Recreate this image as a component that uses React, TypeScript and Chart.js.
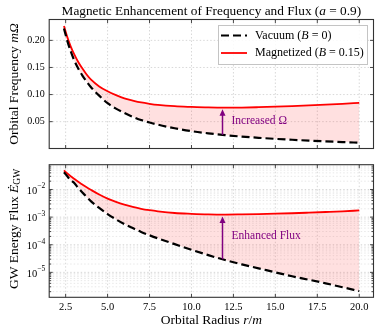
import React, { useEffect, useRef } from 'react';
import { Chart, registerables } from 'chart.js';
Chart.register(...registerables);

// ---------- data ----------
const radius = [2.4, 2.6, 2.8, 3.0, 3.25, 3.5, 3.75, 4.0, 4.5, 5.0, 5.5, 6.0, 6.5, 7.0, 7.5, 8.0, 9.0, 10, 11, 12, 13, 14, 15, 16, 17, 18, 19, 20];
const omegaVacuum = [0.222, 0.199, 0.18, 0.164, 0.148, 0.135, 0.124, 0.114, 0.098, 0.084, 0.074, 0.066, 0.059, 0.053, 0.0485, 0.0445, 0.0378, 0.0325, 0.0285, 0.0252, 0.0225, 0.0202, 0.0183, 0.0166, 0.0151, 0.0137, 0.0124, 0.0112];
const omegaMagnetized = [0.2265, 0.206, 0.189, 0.175, 0.16, 0.148, 0.137, 0.128, 0.115, 0.106, 0.099, 0.093, 0.089, 0.0855, 0.083, 0.081, 0.0785, 0.0772, 0.0762, 0.0758, 0.076, 0.0767, 0.0776, 0.0787, 0.08, 0.0815, 0.083, 0.0846];
const fluxVacuum = [4.2e-2, 3.0e-2, 2.2e-2, 1.74e-2, 1.15e-2, 7.8e-3, 5.4e-3, 3.8e-3, 2.14e-3, 1.29e-3, 8.3e-4, 5.6e-4, 4.0e-4, 2.9e-4, 2.2e-4, 1.7e-4, 1.05e-4, 6.6e-5, 4.2e-5, 2.8e-5, 1.95e-5, 1.4e-5, 1.0e-5, 7.2e-6, 5.4e-6, 4.0e-6, 2.9e-6, 2.1e-6];
const fluxMagnetized = [4.9e-2, 3.8e-2, 3.02e-2, 2.45e-2, 1.9e-2, 1.51e-2, 1.2e-2, 9.77e-3, 6.6e-3, 4.68e-3, 3.55e-3, 2.82e-3, 2.34e-3, 2.0e-3, 1.78e-3, 1.62e-3, 1.41e-3, 1.32e-3, 1.26e-3, 1.24e-3, 1.26e-3, 1.29e-3, 1.33e-3, 1.38e-3, 1.45e-3, 1.53e-3, 1.62e-3, 1.74e-3];

const radiusTicks = [2.5, 5.0, 7.5, 10.0, 12.5, 15.0, 17.5, 20.0];
const omegaTicks = [0.05, 0.1, 0.15, 0.2];
const fluxDecades = [-5, -4, -3, -2];

const vacuumLabel = ['Vacuum (', 'B', ' = 0)'];
const magnetizedLabel = ['Magnetized (', 'B', ' = 0.15)'];
const arrowRadius = 11.85;
const omegaNote = 'Increased Ω';
const fluxNote = 'Enhanced Flux';

// ---------- style ----------
const SERIF = "'Liberation Serif', 'Times New Roman', Times, serif";
const PURPLE = '#800080';
const RED = '#ff0000';
const FILL = 'rgba(255,0,0,0.12)';
const GRID = 'rgba(0,0,0,0.2)';
const GRID_MINOR = 'rgba(0,0,0,0.12)';
const FRAME = '#333333';
const DASH = [8, 4];
const TICK_SIZE = 10;

const f = (size: number, italic = false) => `${italic ? 'italic ' : ''}${size}px ${SERIF}`;

type Part = { t: string; size: number; it?: boolean; dy?: number };

function drawRich(ctx: CanvasRenderingContext2D, parts: Part[], x: number, y: number, align: 'left' | 'center' | 'right' = 'center') {
  ctx.save();
  ctx.textBaseline = 'middle';
  ctx.textAlign = 'left';
  let total = 0;
  const widths = parts.map((p) => {
    ctx.font = f(p.size, p.it);
    const w = ctx.measureText(p.t).width;
    total += w;
    return w;
  });
  let cx = align === 'center' ? x - total / 2 : align === 'right' ? x - total : x;
  parts.forEach((p, i) => {
    ctx.font = f(p.size, p.it);
    ctx.fillText(p.t, cx, y + (p.dy || 0));
    cx += widths[i];
  });
  ctx.restore();
}

function interp(xs: number[], ys: number[], x: number, log = false) {
  for (let i = 0; i < xs.length - 1; i++) {
    if (x >= xs[i] && x <= xs[i + 1]) {
      const t = (x - xs[i]) / (xs[i + 1] - xs[i]);
      if (log) return Math.pow(10, Math.log10(ys[i]) + t * (Math.log10(ys[i + 1]) - Math.log10(ys[i])));
      return ys[i] + t * (ys[i + 1] - ys[i]);
    }
  }
  return ys[ys.length - 1];
}

function line(ctx: CanvasRenderingContext2D, x0: number, y0: number, x1: number, y1: number) {
  ctx.beginPath();
  ctx.moveTo(x0, y0);
  ctx.lineTo(x1, y1);
  ctx.stroke();
}

function drawArrow(ctx: CanvasRenderingContext2D, x: number, yFrom: number, yTo: number) {
  ctx.save();
  ctx.strokeStyle = PURPLE;
  ctx.fillStyle = PURPLE;
  ctx.lineWidth = 1.5;
  line(ctx, x, yFrom, x, yTo + 5);
  ctx.beginPath();
  ctx.moveTo(x, yTo);
  ctx.lineTo(x - 3, yTo + 6.5);
  ctx.lineTo(x + 3, yTo + 6.5);
  ctx.closePath();
  ctx.fill();
  ctx.restore();
}

function makeDecor(kind: 'top' | 'bottom') {
  return {
    id: 'decor-' + kind,
    beforeDatasetsDraw(chart: any) {
      const { ctx, chartArea: a, scales } = chart;
      const xs = scales.x, ys = scales.y;
      ctx.save();
      ctx.strokeStyle = GRID;
      ctx.lineWidth = 0.8;
      ctx.setLineDash([1.5, 2]);
      radiusTicks.forEach((v) => {
        const px = xs.getPixelForValue(v);
        line(ctx, px, a.top, px, a.bottom);
      });
      if (kind === 'top') {
        omegaTicks.forEach((v) => {
          const py = ys.getPixelForValue(v);
          line(ctx, a.left, py, a.right, py);
        });
      } else {
        for (let e = -7; e <= 0; e++) {
          for (let m = 1; m <= 9; m++) {
            const v = m * Math.pow(10, e);
            if (v < ys.min || v > ys.max) continue;
            const py = ys.getPixelForValue(v);
            ctx.strokeStyle = m === 1 ? GRID : GRID_MINOR;
            line(ctx, a.left, py, a.right, py);
          }
        }
      }
      ctx.restore();
    },
    afterDatasetsDraw(chart: any) {
      const { ctx, chartArea: a, scales } = chart;
      const xs = scales.x, ys = scales.y;
      const px = xs.getPixelForValue(arrowRadius);
      if (kind === 'top') {
        const yLow = ys.getPixelForValue(interp(radius, omegaVacuum, arrowRadius));
        const yHigh = ys.getPixelForValue(interp(radius, omegaMagnetized, arrowRadius));
        drawArrow(ctx, px, yLow, yHigh + 1.5);
        ctx.fillStyle = PURPLE;
        drawRich(ctx, [{ t: omegaNote, size: 11.5 }], px + 9, (yLow + yHigh) / 2 - 0.5, 'left');
      } else {
        const yLow = ys.getPixelForValue(interp(radius, fluxVacuum, arrowRadius, true));
        const yHigh = ys.getPixelForValue(interp(radius, fluxMagnetized, arrowRadius, true));
        drawArrow(ctx, px, yLow, yHigh + 2);
        ctx.fillStyle = PURPLE;
        drawRich(ctx, [{ t: fluxNote, size: 11.5 }], px + 9, (yLow + yHigh) / 2 - 1, 'left');
      }
      // frame + inward ticks
      ctx.save();
      ctx.strokeStyle = FRAME;
      ctx.lineWidth = 1.1;
      ctx.strokeRect(a.left, a.top, a.right - a.left, a.bottom - a.top);
      ctx.lineWidth = 0.9;
      radiusTicks.forEach((v) => {
        const p = xs.getPixelForValue(v);
        line(ctx, p, a.bottom, p, a.bottom - 3.5);
        line(ctx, p, a.top, p, a.top + 3.5);
      });
      if (kind === 'top') {
        omegaTicks.forEach((v) => {
          const p = ys.getPixelForValue(v);
          line(ctx, a.left, p, a.left + 3.5, p);
          line(ctx, a.right, p, a.right - 3.5, p);
        });
      } else {
        for (let e = -7; e <= 0; e++) {
          for (let m = 1; m <= 9; m++) {
            const v = m * Math.pow(10, e);
            if (v < ys.min || v > ys.max) continue;
            const p = ys.getPixelForValue(v);
            const L = m === 1 ? 3.5 : 2;
            line(ctx, a.left, p, a.left + L, p);
            line(ctx, a.right, p, a.right - L, p);
          }
        }
      }
      ctx.restore();
      // legend
      if (kind === 'top') {
        const bx = 218.5, by = 25.5, bw = 149, bh = 39;
        ctx.save();
        ctx.fillStyle = 'rgba(255,255,255,0.85)';
        ctx.fillRect(bx, by, bw, bh);
        ctx.strokeStyle = '#c4c4c4';
        ctx.lineWidth = 1;
        ctx.strokeRect(bx, by, bw, bh);
        ctx.lineWidth = 2.2;
        ctx.strokeStyle = '#000';
        ctx.setLineDash(DASH);
        line(ctx, 221, 35.5, 247, 35.5);
        ctx.setLineDash([]);
        ctx.strokeStyle = RED;
        ctx.lineWidth = 1.8;
        line(ctx, 221, 53, 247, 53);
        ctx.fillStyle = '#000';
        drawRich(ctx, [{ t: vacuumLabel[0], size: 12 }, { t: vacuumLabel[1], size: 12, it: true }, { t: vacuumLabel[2], size: 12 }], 255, 35.5, 'left');
        drawRich(ctx, [{ t: magnetizedLabel[0], size: 12 }, { t: magnetizedLabel[1], size: 12, it: true }, { t: magnetizedLabel[2], size: 12 }], 255, 53, 'left');
        ctx.restore();
      }
    },
    afterDraw(chart: any) {
      const { ctx, chartArea: a, scales } = chart;
      ctx.save();
      ctx.fillStyle = '#000';
      const cx = (a.left + a.right) / 2;
      const cy = (a.top + a.bottom) / 2;
      if (kind === 'top') {
        drawRich(ctx, [
          { t: 'Magnetic Enhancement of Frequency and Flux (', size: 13.3 },
          { t: 'a', size: 13.3, it: true },
          { t: ' = 0.9)', size: 13.3 },
        ], cx, 12);
        ctx.save();
        ctx.translate(14, cy);
        ctx.rotate(-Math.PI / 2);
        drawRich(ctx, [{ t: 'Orbital Frequency ', size: 13.5 }, { t: 'mΩ', size: 13.5, it: true }], 0, 0);
        ctx.restore();
      } else {
        ctx.save();
        ctx.translate(14, cy - 2);
        ctx.rotate(-Math.PI / 2);
        drawRich(ctx, [
          { t: 'GW Energy Flux ', size: 13.5 },
          { t: 'Ė', size: 13.5, it: true },
          { t: 'GW', size: 9.5, dy: 3.5 },
        ], 0, 0);
        ctx.restore();
        drawRich(ctx, [
          { t: 'Orbital Radius ', size: 13.5 },
          { t: 'r', size: 13.5, it: true },
          { t: '/', size: 13.5 },
          { t: 'm', size: 13.5, it: true },
        ], cx, 161.5);
        const ys = scales.y;
        fluxDecades.forEach((e) => {
          const p = ys.getPixelForValue(Math.pow(10, e));
          drawRich(ctx, [{ t: '10', size: TICK_SIZE + 0.5, dy: 1.5 }, { t: '−' + Math.abs(e), size: 7.5, dy: -3 }], a.left - 4, p, 'right');
        });
      }
      ctx.restore();
    },
  };
}

function xScale(showLabels: boolean, height: number) {
  return {
    type: 'linear',
    min: 1.52,
    max: 20.85,
    grid: { display: false, drawTicks: false, tickLength: 0 },
    border: { display: false },
    afterBuildTicks: (s: any) => { s.ticks = radiusTicks.map((v) => ({ value: v })); },
    afterFit: (s: any) => { s.height = height; },
    ticks: {
      display: showLabels,
      autoSkip: false,
      maxRotation: 0,
      padding: 4,
      color: '#000',
      font: { family: SERIF, size: TICK_SIZE + 0.5 },
      callback: (v: any) => Number(v).toFixed(1),
    },
  };
}

function commonOptions() {
  return {
    responsive: false,
    animation: false,
    devicePixelRatio: 1,
    plugins: { legend: { display: false }, tooltip: { enabled: false }, title: { display: false } },
    elements: { point: { radius: 0 }, line: { cubicInterpolationMode: 'monotone' } },
  };
}

function seriesSets(vac: number[], mag: number[]) {
  return [
    { label: 'Vacuum (B=0)', data: radius.map((r, i) => ({ x: r, y: vac[i] })), borderColor: '#000', borderWidth: 2.2, borderDash: DASH, fill: false, order: 1 },
    { label: 'Magnetized (B=0.15)', data: radius.map((r, i) => ({ x: r, y: mag[i] })), borderColor: RED, borderWidth: 1.8, fill: { target: 0, above: FILL, below: FILL }, backgroundColor: FILL, order: 2 },
  ];
}

function topConfig(): any {
  return {
    type: 'line',
    data: { datasets: seriesSets(omegaVacuum, omegaMagnetized) },
    options: {
      ...commonOptions(),
      layout: { padding: { top: 19.5, right: 6.5, left: 0, bottom: 0 } },
      scales: {
        x: xScale(false, 5),
        y: {
          type: 'linear',
          min: 0.0005,
          max: 0.2385,
          grid: { display: false, drawTicks: false, tickLength: 0 },
          border: { display: false },
          afterBuildTicks: (s: any) => { s.ticks = omegaTicks.map((v) => ({ value: v })); },
          afterFit: (s: any) => { s.width = 49.2; },
          ticks: { padding: 4.5, color: '#000', font: { family: SERIF, size: TICK_SIZE }, callback: (v: any) => Number(v).toFixed(2) },
        },
      },
    },
    plugins: [makeDecor('top')],
  };
}

function bottomConfig(): any {
  return {
    type: 'line',
    data: { datasets: seriesSets(fluxVacuum, fluxMagnetized) },
    options: {
      ...commonOptions(),
      layout: { padding: { top: 5.7, right: 6.5, left: 0, bottom: 0 } },
      scales: {
        x: xScale(true, 36.7),
        y: {
          type: 'logarithmic',
          min: 1.25e-6,
          max: 0.079,
          grid: { display: false, drawTicks: false, tickLength: 0 },
          border: { display: false },
          afterBuildTicks: (s: any) => { s.ticks = fluxDecades.map((e) => ({ value: Math.pow(10, e) })); },
          afterFit: (s: any) => { s.width = 49.2; },
          ticks: { display: false },
        },
      },
    },
    plugins: [makeDecor('bottom')],
  };
}

export default function App() {
  const topRef = useRef<HTMLCanvasElement>(null);
  const botRef = useRef<HTMLCanvasElement>(null);
  useEffect(() => {
    const c1 = new Chart(topRef.current as HTMLCanvasElement, topConfig());
    const c2 = new Chart(botRef.current as HTMLCanvasElement, bottomConfig());
    return () => {
      c1.destroy();
      c2.destroy();
    };
  }, []);
  return (
    <div style={{ position: 'fixed', left: 0, top: 0, width: 380, height: 334, background: '#fff' }}>
      <canvas ref={topRef} width={380} height={159} style={{ position: 'absolute', left: 0, top: 0, width: 380, height: 159 }} />
      <canvas ref={botRef} width={380} height={175} style={{ position: 'absolute', left: 0, top: 159, width: 380, height: 175 }} />
    </div>
  );
}
